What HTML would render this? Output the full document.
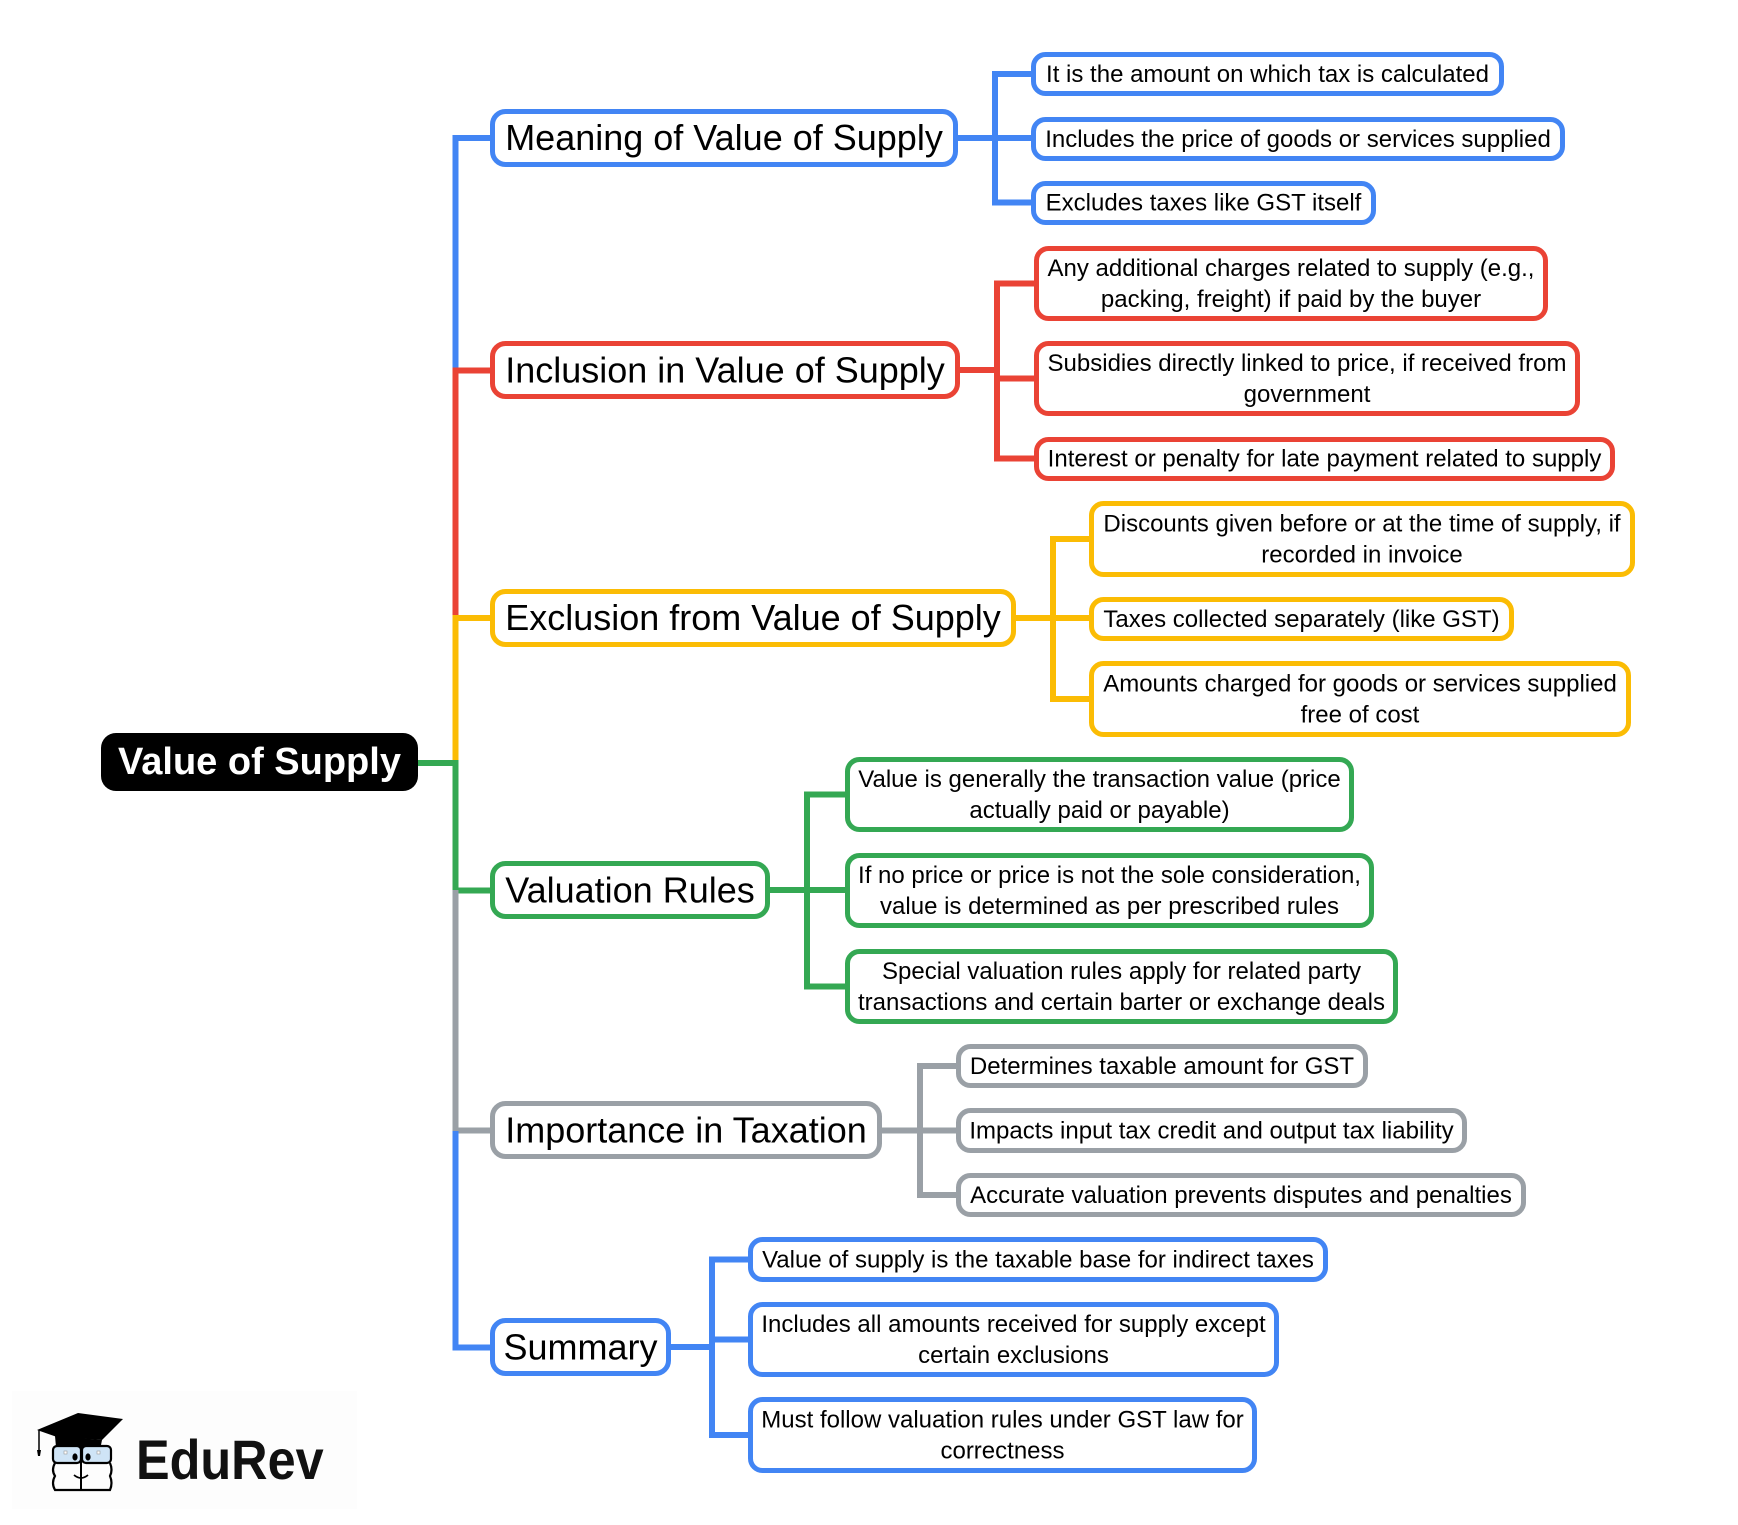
<!DOCTYPE html>
<html>
<head>
<meta charset="utf-8">
<style>
  html, body { margin:0; padding:0; background:#ffffff; }
  body { width:1738px; height:1525px; overflow:hidden; }
  svg { display:block; }
  .m { font-family:"Liberation Sans", Arial, sans-serif; font-size:36px; fill:#000; text-anchor:middle; }
  .s { font-family:"Liberation Sans", Arial, sans-serif; font-size:24px; fill:#000; text-anchor:middle; }
  .ln { fill:none; stroke-width:6; stroke-linejoin:miter; stroke-linecap:butt; }
  .bx { fill:#fff; stroke-width:5; }
</style>
</head>
<body>
<svg width="1738" height="1525" viewBox="0 0 1738 1525" xmlns="http://www.w3.org/2000/svg">
  <!-- logo background -->
  <rect x="12" y="1391" width="345" height="118" fill="#fdfdfd"/>

  <!-- main trunk connectors -->
  <path class="ln" stroke="#4285F4" d="M490,138 H455.5 V372"/>
  <path class="ln" stroke="#EA4335" d="M455.5,370 V620 M452.5,370.5 H490"/>
  <path class="ln" stroke="#FBBC04" d="M455.5,618 V765 M452.5,618 H490"/>
  <path class="ln" stroke="#34A853" d="M418,763 H455.5 V892 M452.5,890.5 H490"/>
  <path class="ln" stroke="#9AA0A6" d="M455.5,890 V1133 M452.5,1130.5 H490"/>
  <path class="ln" stroke="#4285F4" d="M455.5,1131 V1347.5 H490"/>

  <!-- sub connectors -->
  <path class="ln" stroke="#4285F4" d="M1031,74 H995 V202.5 H1031 M958,138 H1031"/>
  <path class="ln" stroke="#EA4335" d="M1034,283.5 H997 V458.5 H1034 M960,370 H997 M997,378.5 H1034"/>
  <path class="ln" stroke="#FBBC04" d="M1089,539 H1053 V699 H1089 M1016,618 H1089"/>
  <path class="ln" stroke="#34A853" d="M845,794.5 H807 V986.5 H845 M770,890 H845"/>
  <path class="ln" stroke="#9AA0A6" d="M956,1066 H920 V1195 H956 M882,1130.5 H956"/>
  <path class="ln" stroke="#4285F4" d="M748,1259.5 H712 V1435 H748 M671,1347 H712 M712,1339.5 H748"/>

  <!-- root -->
  <rect x="101" y="733" width="317" height="58" rx="15" fill="#000"/>
  <text x="259.5" y="774" font-family="'Liberation Sans', Arial, sans-serif" font-size="38" font-weight="bold" fill="#fff" text-anchor="middle">Value of Supply</text>

  <!-- main boxes -->
  <rect class="bx" stroke="#4285F4" x="492.5" y="111.5" width="463" height="53" rx="13"/>
  <text class="m" x="724" y="150">Meaning of Value of Supply</text>

  <rect class="bx" stroke="#EA4335" x="492.5" y="343.5" width="465" height="53" rx="13"/>
  <text class="m" x="725" y="382.5">Inclusion in Value of Supply</text>

  <rect class="bx" stroke="#FBBC04" x="492.5" y="591.5" width="521" height="53" rx="13"/>
  <text class="m" x="753" y="630">Exclusion from Value of Supply</text>

  <rect class="bx" stroke="#34A853" x="492.5" y="863.5" width="275" height="53" rx="13"/>
  <text class="m" x="630" y="902.5">Valuation Rules</text>

  <rect class="bx" stroke="#9AA0A6" x="492.5" y="1103.5" width="387" height="53" rx="13"/>
  <text class="m" x="686" y="1142.5">Importance in Taxation</text>

  <rect class="bx" stroke="#4285F4" x="492.5" y="1320.5" width="176" height="53" rx="13"/>
  <text class="m" x="580.5" y="1359.5">Summary</text>

  <!-- blue sub boxes -->
  <rect class="bx" stroke="#4285F4" x="1033.5" y="54.5" width="468" height="39" rx="12"/>
  <text class="s" x="1267.5" y="82">It is the amount on which tax is calculated</text>
  <rect class="bx" stroke="#4285F4" x="1033.5" y="119.5" width="529" height="39" rx="12"/>
  <text class="s" x="1298" y="147">Includes the price of goods or services supplied</text>
  <rect class="bx" stroke="#4285F4" x="1033.5" y="183.5" width="340" height="39" rx="12"/>
  <text class="s" x="1203.5" y="210.5">Excludes taxes like GST itself</text>

  <!-- red sub boxes -->
  <rect class="bx" stroke="#EA4335" x="1036.5" y="248.5" width="509" height="70" rx="12"/>
  <text class="s" x="1291" y="276">Any additional charges related to supply (e.g.,</text>
  <text class="s" x="1291" y="307">packing, freight) if paid by the buyer</text>
  <rect class="bx" stroke="#EA4335" x="1036.5" y="343.5" width="541" height="70" rx="12"/>
  <text class="s" x="1307" y="371">Subsidies directly linked to price, if received from</text>
  <text class="s" x="1307" y="402">government</text>
  <rect class="bx" stroke="#EA4335" x="1036.5" y="439.5" width="576" height="39" rx="12"/>
  <text class="s" x="1324.5" y="466.5">Interest or penalty for late payment related to supply</text>

  <!-- yellow sub boxes -->
  <rect class="bx" stroke="#FBBC04" x="1091.5" y="503.5" width="541" height="71" rx="12"/>
  <text class="s" x="1362" y="531.5">Discounts given before or at the time of supply, if</text>
  <text class="s" x="1362" y="562.5">recorded in invoice</text>
  <rect class="bx" stroke="#FBBC04" x="1091.5" y="599.5" width="420" height="39" rx="12"/>
  <text class="s" x="1301.5" y="627">Taxes collected separately (like GST)</text>
  <rect class="bx" stroke="#FBBC04" x="1091.5" y="663.5" width="537" height="71" rx="12"/>
  <text class="s" x="1360" y="691.5">Amounts charged for goods or services supplied</text>
  <text class="s" x="1360" y="722.5">free of cost</text>

  <!-- green sub boxes -->
  <rect class="bx" stroke="#34A853" x="847.5" y="759.5" width="504" height="70" rx="12"/>
  <text class="s" x="1099.5" y="787">Value is generally the transaction value (price</text>
  <text class="s" x="1099.5" y="818">actually paid or payable)</text>
  <rect class="bx" stroke="#34A853" x="847.5" y="855.5" width="524" height="70" rx="12"/>
  <text class="s" x="1109.5" y="883">If no price or price is not the sole consideration,</text>
  <text class="s" x="1109.5" y="914">value is determined as per prescribed rules</text>
  <rect class="bx" stroke="#34A853" x="847.5" y="951.5" width="548" height="70" rx="12"/>
  <text class="s" x="1121.5" y="979">Special valuation rules apply for related party</text>
  <text class="s" x="1121.5" y="1010">transactions and certain barter or exchange deals</text>

  <!-- gray sub boxes -->
  <rect class="bx" stroke="#9AA0A6" x="958.5" y="1046.5" width="407" height="39" rx="12"/>
  <text class="s" x="1162" y="1074">Determines taxable amount for GST</text>
  <rect class="bx" stroke="#9AA0A6" x="958.5" y="1110.5" width="506" height="40" rx="12"/>
  <text class="s" x="1211.5" y="1138.5">Impacts input tax credit and output tax liability</text>
  <rect class="bx" stroke="#9AA0A6" x="958.5" y="1175.5" width="565" height="39" rx="12"/>
  <text class="s" x="1241" y="1203">Accurate valuation prevents disputes and penalties</text>

  <!-- summary sub boxes -->
  <rect class="bx" stroke="#4285F4" x="750.5" y="1239.5" width="575" height="40" rx="12"/>
  <text class="s" x="1038" y="1267.5">Value of supply is the taxable base for indirect taxes</text>
  <rect class="bx" stroke="#4285F4" x="750.5" y="1304.5" width="526" height="70" rx="12"/>
  <text class="s" x="1013.5" y="1332">Includes all amounts received for supply except</text>
  <text class="s" x="1013.5" y="1363">certain exclusions</text>
  <rect class="bx" stroke="#4285F4" x="750.5" y="1399.5" width="504" height="71" rx="12"/>
  <text class="s" x="1002.5" y="1427.5">Must follow valuation rules under GST law for</text>
  <text class="s" x="1002.5" y="1458.5">correctness</text>

  <!-- EduRev logo -->
  <g>
    <polygon points="37,1430 78,1413 123,1419 102,1440 57,1437" fill="#000"/>
    <polygon points="55,1436 102,1440 100,1450 56,1447" fill="#000"/>
    <line x1="39" y1="1430" x2="39" y2="1450" stroke="#000" stroke-width="1.5"/>
    <path d="M37,1450 L41,1450 L40,1456 L38,1456 Z" fill="#000"/>
    <rect x="53" y="1446" width="28" height="17" rx="4" fill="#cfe4f6" stroke="#000" stroke-width="2.2"/>
    <rect x="82" y="1446" width="29" height="17" rx="4" fill="#cfe4f6" stroke="#000" stroke-width="2.2"/>
    <ellipse cx="75" cy="1457" rx="2.6" ry="3.6" fill="#000"/>
    <ellipse cx="88" cy="1457" rx="2.6" ry="3.6" fill="#000"/>
    <rect x="64" y="1451" width="3" height="3" fill="#fff" stroke="#999" stroke-width="0.6"/>
    <rect x="97" y="1451" width="3" height="3" fill="#fff" stroke="#999" stroke-width="0.6"/>
    <path d="M55,1463 Q51,1470 55,1476 Q51,1483 55,1490 H110 Q113,1483 110,1476 Q113,1470 110,1463" fill="none" stroke="#000" stroke-width="2.2"/>
    <line x1="81" y1="1444" x2="81" y2="1491" stroke="#000" stroke-width="2"/>
    <path d="M74,1475 Q81,1481 88,1475" fill="none" stroke="#000" stroke-width="1.8"/>
    <text x="136" y="1479" font-family="'Liberation Sans', Arial, sans-serif" font-size="56" font-weight="bold" fill="#111" transform="translate(136,0) scale(0.9,1) translate(-136,0)">EduRev</text>
  </g>
</svg>
</body>
</html>
